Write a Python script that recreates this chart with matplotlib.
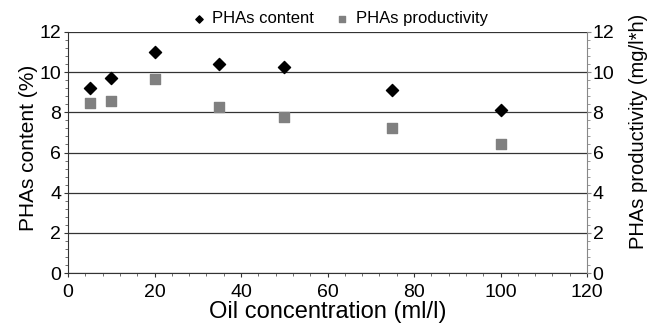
import matplotlib
matplotlib.use("Agg")
import matplotlib.pyplot as plt
from matplotlib.ticker import MultipleLocator

plt.rcParams['font.family'] = ['Liberation Sans', 'DejaVu Sans']

# data
oil_conc = [5, 10, 20, 35, 50, 75, 100]
pha_content = [9.23, 9.73, 10.99, 10.39, 10.27, 9.1, 8.1]
pha_productivity = [8.48, 8.55, 9.64, 8.28, 7.75, 7.2, 6.44]

fig = plt.figure(figsize=(6.49, 3.34), dpi=100)
ax = fig.add_axes([68 / 649, 1 - 273 / 334, (587 - 68) / 649, (273 - 32) / 334])
ax2 = ax.twinx()

ax.set_xlim(0, 120)
ax.set_ylim(0, 12)
ax2.set_ylim(0, 12)

ax.yaxis.set_major_locator(MultipleLocator(2))
ax.yaxis.set_minor_locator(MultipleLocator(0.4))
ax.xaxis.set_major_locator(MultipleLocator(20))
ax.xaxis.set_minor_locator(MultipleLocator(4))
ax2.yaxis.set_major_locator(MultipleLocator(2))
ax2.yaxis.set_minor_locator(MultipleLocator(0.4))

ax.grid(axis='y', color='#333333', linewidth=0.9)
ax.set_axisbelow(True)

for s in ['top', 'right']:
    ax.spines[s].set_visible(False)
for s in ['top', 'left', 'bottom']:
    ax2.spines[s].set_visible(False)
ax.spines['left'].set_color('#333333')
ax.spines['bottom'].set_color('#333333')
ax2.spines['right'].set_color('#888888')

ax.tick_params(axis='y', which='major', direction='out', length=3, labelsize=14, color='#333333', pad=2)
ax.tick_params(axis='x', which='major', direction='out', length=3, labelsize=14, color='#333333', pad=5)
ax.tick_params(which='minor', direction='out', length=2, color='#555555')
ax2.tick_params(which='major', direction='out', length=3, labelsize=14, color='#888888', pad=1)
ax2.tick_params(which='minor', direction='out', length=2, color='#888888')

ax.scatter(oil_conc, pha_content, marker='D', s=38, color='black', zorder=3, label='PHAs content')
ax2.scatter(oil_conc, pha_productivity, marker='s', s=46, color='#808080', zorder=3, label='PHAs productivity')

ax.set_xlabel('Oil concentration (ml/l)', fontsize=17, labelpad=0)
ax.set_ylabel('PHAs content (%)', fontsize=15)
ax2.set_ylabel('PHAs productivity (mg/l*h)', fontsize=14.5)
ax.yaxis.set_label_coords(-0.058, 0.519)
ax2.yaxis.set_label_coords(1.081, 0.589)

h1, l1 = ax.get_legend_handles_labels()
h2, l2 = ax2.get_legend_handles_labels()
fig.legend(h1 + h2, l1 + l2, loc='upper center', bbox_to_anchor=(0.516, 1.011), ncol=2,
           frameon=False, fontsize=12, handletextpad=-0.2, columnspacing=0.7,
           markerscale=0.6)

fig.savefig('out.png', dpi=100)
